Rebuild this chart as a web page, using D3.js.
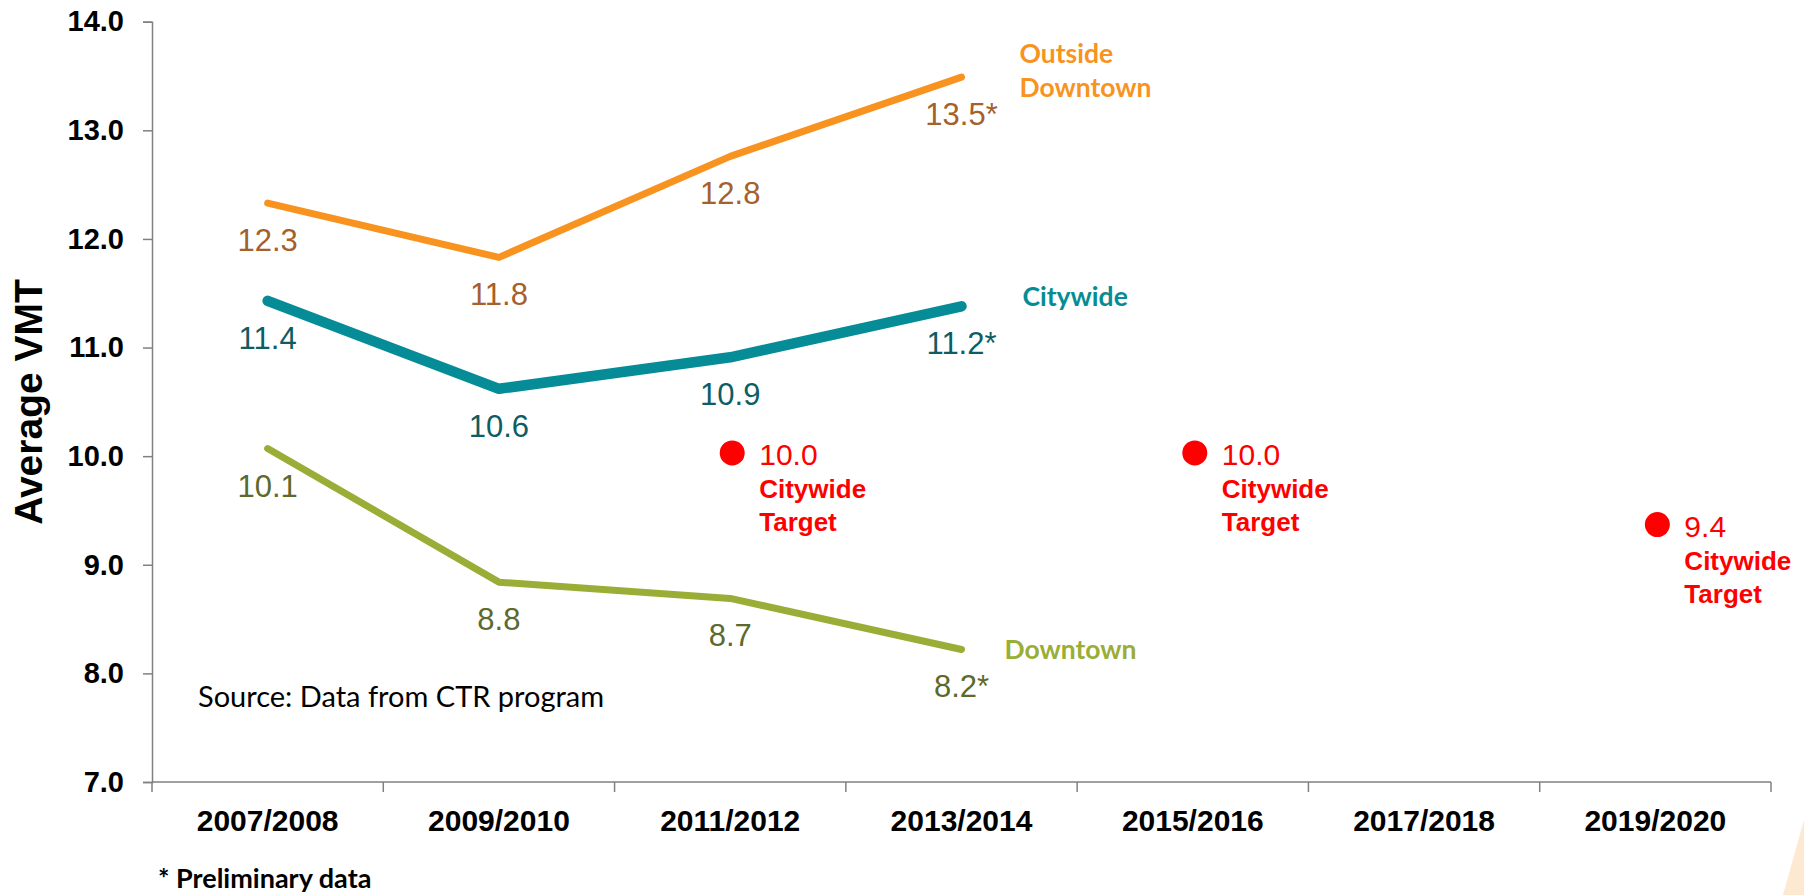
<!DOCTYPE html>
<html>
<head>
<meta charset="utf-8">
<script src="https://cdn.jsdelivr.net/npm/d3@7"></script>
<style>
  html, body { margin: 0; padding: 0; background: #fff; }
  svg { display: block; }
</style>
</head>
<body>
<div id="chart"></div>
<script>
// categories on the x axis
const categories = ["2007/2008", "2009/2010", "2011/2012", "2013/2014", "2015/2016", "2017/2018", "2019/2020"];
const yTicks = [7, 8, 9, 10, 11, 12, 13, 14];

// series (only first 4 periods have data)
const seriesYears = ["2007/2008", "2009/2010", "2011/2012", "2013/2014"];
const outsideValues = [12.33, 11.83, 12.76, 13.49];
const outsideLabels = ["12.3", "11.8", "12.8", "13.5*"];
const citywideValues = [11.43, 10.62, 10.91, 11.38];
const citywideLabels = ["11.4", "10.6", "10.9", "11.2*"];
const downtownValues = [10.07, 8.84, 8.69, 8.22];
const downtownLabels = ["10.1", "8.8", "8.7", "8.2*"];

// citywide targets
const targetYears = ["2011/2012", "2015/2016", "2019/2020"];
const targetValues = [10.03, 10.03, 9.37];
const targetLabels = ["10.0", "10.0", "9.4"];

const W = 1804, H = 895;
const svg = d3.select("#chart").append("svg").attr("width", W).attr("height", H);

const x = d3.scaleBand().domain(categories).range([152, 1771]).padding(0);
const y = d3.scaleLinear().domain([7, 14]).range([782, 21.7]);
const cx = d => x(d) + x.bandwidth() / 2;

// decoration bottom right
svg.append("polygon")
  .attr("points", "1783,895 1804,820 1804,895")
  .attr("fill", "#fde8d2");

// y axis
const yAxis = svg.append("g")
  .attr("transform", `translate(${x.range()[0]},0)`)
  .call(d3.axisLeft(y).tickValues(yTicks).tickFormat(d3.format(".1f")).tickSize(9).tickPadding(19));
yAxis.select(".domain").attr("stroke", "#808080").attr("stroke-width", 1.5);
yAxis.selectAll(".tick line").attr("stroke", "#808080").attr("stroke-width", 1.5);
yAxis.selectAll(".tick text")
  .style("font-family", "'Liberation Sans', Arial, sans-serif")
  .style("font-weight", "bold")
  .style("font-size", "29px")
  .attr("fill", "#000");

// x axis: line + boundary ticks, labels centered in bands
const xAxis = svg.append("g");
xAxis.append("line")
  .attr("x1", x.range()[0]).attr("x2", x.range()[1])
  .attr("y1", y(7)).attr("y2", y(7))
  .attr("stroke", "#808080").attr("stroke-width", 1.5);
const bounds = categories.map(d => x(d)).concat([x.range()[1]]);
xAxis.selectAll(".xtick").data(bounds).join("line")
  .attr("class", "xtick")
  .attr("x1", d => d).attr("x2", d => d)
  .attr("y1", y(7)).attr("y2", y(7) + 10)
  .attr("stroke", "#808080").attr("stroke-width", 1.5);
xAxis.selectAll(".xlab").data(categories).join("text")
  .attr("class", "xlab")
  .attr("x", d => cx(d))
  .attr("y", 831)
  .attr("text-anchor", "middle")
  .style("font-family", "'Liberation Sans', Arial, sans-serif")
  .style("font-weight", "bold")
  .style("font-size", "30px")
  .text(d => d);

// y title
svg.append("text")
  .attr("transform", "translate(42,402) rotate(-90)")
  .attr("text-anchor", "middle")
  .style("font-family", "'Liberation Sans', Arial, sans-serif")
  .style("font-weight", "bold")
  .style("font-size", "39px")
  .text("Average VMT");

// series styles
const series = [
  { name: ["Outside", "Downtown"], values: outsideValues, labels: outsideLabels,
    color: "#f7931e", labelColor: "#a5602b", width: 7, nameDx: 58, nameDy: [-14, 20] },
  { name: ["Citywide"], values: citywideValues, labels: citywideLabels,
    color: "#058c96", labelColor: "#0e5d64", width: 10.5, nameDx: 61, nameDy: [0] },
  { name: ["Downtown"], values: downtownValues, labels: downtownLabels,
    color: "#9aae37", labelColor: "#5d6a2d", width: 7, nameDx: 43, nameDy: [10] }
];

const line = d3.line().x((d, i) => cx(seriesYears[i])).y(d => y(d));

series.forEach(s => {
  svg.append("path")
    .datum(s.values)
    .attr("d", line)
    .attr("fill", "none")
    .attr("stroke", s.color)
    .attr("stroke-width", s.width)
    .attr("stroke-linecap", "round")
    .attr("stroke-linejoin", "round");

  svg.selectAll(null).data(s.values).join("text")
    .attr("x", (d, i) => cx(seriesYears[i]))
    .attr("y", d => y(d) + 48)
    .attr("text-anchor", "middle")
    .style("font-family", "'Liberation Sans', Arial, sans-serif")
    .style("font-size", "31px")
    .attr("fill", s.labelColor)
    .text((d, i) => s.labels[i]);

  const last = s.values[s.values.length - 1];
  const lx = cx(seriesYears[seriesYears.length - 1]) + s.nameDx;
  s.name.forEach((t, k) => {
    svg.append("text")
      .attr("x", lx)
      .attr("y", y(last) + s.nameDy[k])
      .style("font-family", "Lato, 'Open Sans', sans-serif")
      .style("font-weight", "bold")
      .style("font-size", "26.5px")
      .attr("fill", s.color)
      .text(t);
  });
});

// targets
const tg = svg.selectAll(".target").data(targetYears).join("g")
  .attr("class", "target")
  .attr("transform", (d, i) => `translate(${cx(d) + 2},${y(targetValues[i])})`);
tg.append("circle").attr("r", 12.5).attr("fill", "#ff0000");
tg.append("text")
  .attr("x", 27).attr("y", 12)
  .style("font-family", "'Liberation Sans', Arial, sans-serif")
  .style("font-size", "30px")
  .attr("fill", "#ff0000")
  .text((d, i) => targetLabels[i]);
tg.append("text")
  .attr("x", 27).attr("y", 45)
  .style("font-family", "'Liberation Sans', Arial, sans-serif")
  .style("font-weight", "bold")
  .style("font-size", "26px")
  .attr("fill", "#ff0000")
  .text("Citywide");
tg.append("text")
  .attr("x", 27).attr("y", 78)
  .style("font-family", "'Liberation Sans', Arial, sans-serif")
  .style("font-weight", "bold")
  .style("font-size", "26px")
  .attr("fill", "#ff0000")
  .text("Target");

// notes
svg.append("text")
  .attr("x", 198).attr("y", 707)
  .style("font-family", "Lato, 'Open Sans', sans-serif")
  .style("font-size", "29px")
  .attr("fill", "#000")
  .text("Source: Data from CTR program");

svg.append("text")
  .attr("x", 158).attr("y", 888)
  .style("font-family", "Lato, 'Open Sans', sans-serif")
  .style("font-weight", "bold")
  .style("font-size", "27px")
  .attr("fill", "#000")
  .text("* Preliminary data");
</script>
</body>
</html>
